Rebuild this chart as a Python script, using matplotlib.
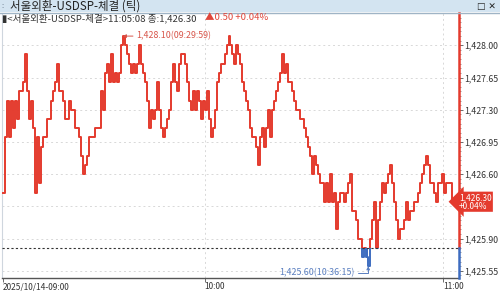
import matplotlib
matplotlib.use("Agg")
import matplotlib.pyplot as plt
import numpy as np
from matplotlib.patches import Rectangle
from matplotlib.ticker import FixedLocator, MultipleLocator

plt.rcParams["font.family"] = ["Noto Sans CJK KR", "DejaVu Sans"]

# tick-by-tick price (KRW per USD), one value per tick
prices = [
    1426.40, 1427.00, 1427.40, 1427.00, 1427.40, 1427.10, 1427.40, 1427.20, 1427.50, 1427.50,
    1427.60, 1427.90, 1427.50, 1427.20, 1427.40, 1427.10, 1426.40, 1427.00, 1426.50, 1426.90,
    1427.00, 1427.00, 1427.20, 1427.20, 1427.40, 1427.50, 1427.60, 1427.80, 1427.50, 1427.50,
    1427.40, 1427.20, 1427.20, 1427.40, 1427.30, 1427.30, 1427.10, 1427.10, 1427.00, 1426.80,
    1426.60, 1426.70, 1426.80, 1427.00, 1427.00, 1427.00, 1427.10, 1427.10, 1427.10, 1427.50,
    1427.30, 1427.70, 1427.80, 1427.60, 1427.90, 1427.60, 1427.70, 1427.60, 1427.70, 1428.00,
    1428.10, 1428.00, 1427.90, 1427.80, 1427.70, 1427.80, 1427.70, 1427.80, 1428.00, 1427.80,
    1427.70, 1427.60, 1427.40, 1427.10, 1427.30, 1427.20, 1427.30, 1427.60, 1427.30, 1427.10,
    1427.00, 1427.10, 1427.20, 1427.30, 1427.60, 1427.80, 1427.60, 1427.50, 1427.80, 1427.90,
    1427.90, 1427.80, 1427.60, 1427.40, 1427.30, 1427.50, 1427.30, 1427.50, 1427.40, 1427.20,
    1427.40, 1427.30, 1427.50, 1427.20, 1427.00, 1427.10, 1427.30, 1427.60, 1427.70, 1427.80,
    1427.80, 1427.90, 1428.00, 1428.10, 1428.00, 1427.90, 1427.80, 1428.00, 1427.90, 1427.80,
    1427.60, 1427.50, 1427.40, 1427.30, 1427.10, 1427.00, 1427.00, 1426.90, 1426.70, 1427.00,
    1427.10, 1426.90, 1427.10, 1427.30, 1427.00, 1427.30, 1427.40, 1427.50, 1427.60, 1427.70,
    1427.90, 1427.70, 1427.80, 1427.60, 1427.60, 1427.50, 1427.40, 1427.30, 1427.30, 1427.20,
    1427.20, 1427.10, 1427.00, 1426.90, 1426.80, 1426.60, 1426.80, 1426.70, 1426.60, 1426.50,
    1426.50, 1426.30, 1426.50, 1426.30, 1426.60, 1426.30, 1426.40, 1426.00, 1426.30, 1426.40,
    1426.40, 1426.30, 1426.40, 1426.50, 1426.60, 1426.20, 1426.20, 1426.10, 1425.90, 1425.90,
    1425.70, 1425.80, 1425.70, 1425.60, 1425.90, 1426.10, 1426.30, 1425.80, 1426.10, 1426.30,
    1426.50, 1426.40, 1426.50, 1426.60, 1426.70, 1426.50, 1426.30, 1426.10, 1425.90, 1426.00,
    1426.00, 1426.10, 1426.30, 1426.10, 1426.20, 1426.20, 1426.30, 1426.30, 1426.40, 1426.50,
    1426.60, 1426.70, 1426.80, 1426.70, 1426.50, 1426.50, 1426.40, 1426.30, 1426.50, 1426.50,
    1426.60, 1426.40, 1426.50, 1426.50, 1426.50, 1426.30,
]
prev_close = 1425.80
max_time = "09:29:59"
min_time = "10:36:15"
last_time = "11:05:08"

hour_ticks = [0, 101, 220.5]
hour_labels = ["2025/10/14-09:00", "10:00", "11:00"]
price_ticks = [1425.55, 1425.90, 1426.25, 1426.60, 1426.95, 1427.30, 1427.65, 1428.00]

RED = "#e43a2d"
BLUE = "#3d6cc0"

p = np.array(prices)
idx = np.arange(len(p))
last = p[-1]
chg = last - prev_close
pct = chg / prev_close * 100

fig = plt.figure(figsize=(5.0, 2.91), dpi=100)
W, H = 500, 291
ax = fig.add_axes([2 / W, (H - 278) / H, 457 / W, 265 / H])
ax.set_xlim(-0.5, 228.5)
ax.set_ylim(1425.471, 1428.351)

# grid
for v in price_ticks:
    ax.axhline(v, color="#d8d8d8", lw=0.7, ls=(0, (2, 3)), zorder=0)
for t in hour_ticks[1:]:
    ax.axvline(t, color="#d8d8d8", lw=0.7, ls=(0, (2, 3)), zorder=0)

# price line: red above the previous close, blue below
ln_r, = ax.plot(idx, p, drawstyle="steps-post", color=RED, lw=1.4, zorder=3)
ln_b, = ax.plot(idx, p, drawstyle="steps-post", color=BLUE, lw=1.4, zorder=3)
ln_b.set_clip_path(Rectangle((-10, 1400), 400, prev_close - 1400, transform=ax.transData))
ln_r.set_clip_path(Rectangle((-10, prev_close), 400, 100, transform=ax.transData))
ax.fill_between(idx, p, prev_close, where=p < prev_close, step="post", color=BLUE, lw=0, zorder=2)
ax.axhline(prev_close, color="#333333", lw=0.8, ls=(0, (2, 2)), zorder=4)

# max / min annotations
i_max = int(np.argmax(p))
i_min = int(np.argmin(p))
ax.annotate(f"{p[i_max]:,.2f}({max_time})", xy=(i_max, p[i_max]), xytext=(13, 0),
            textcoords="offset pixels", ha="left", va="center", fontsize=6.4, color="#d8554a",
            arrowprops=dict(arrowstyle="-|>,head_length=0.3,head_width=0.15", color="#d8554a", lw=0.7,
                            shrinkA=0, shrinkB=0))
ax.annotate(f"{p[i_min]:,.2f}({min_time})", xy=(i_min, p[i_min]), xytext=(-14, -7),
            textcoords="offset pixels", ha="right", va="center", fontsize=6.4, color="#5a7fc0",
            arrowprops=dict(arrowstyle="-|>,head_length=0.3,head_width=0.15", color="#5a7fc0", lw=0.7,
                            shrinkA=1, shrinkB=0,
                            connectionstyle="angle,angleA=0,angleB=90,rad=0"))

# axes styling
ax.spines["top"].set_visible(False)
ax.spines["left"].set_color("#cfd6de")
ax.spines["left"].set_linewidth(0.8)
ax.spines["bottom"].set_color("#555555")
ax.spines["bottom"].set_linewidth(1.0)
ax.spines["right"].set_visible(False)
ax.plot([1, 1], [prev_close, 1428.351], transform=ax.get_yaxis_transform(), color=RED, lw=1.8,
        clip_on=False, zorder=5)
ax.plot([1, 1], [1425.471, prev_close], transform=ax.get_yaxis_transform(), color=BLUE, lw=1.8,
        clip_on=False, zorder=5)

ax.yaxis.tick_right()
ax.yaxis.set_major_locator(FixedLocator(price_ticks))
ax.yaxis.set_minor_locator(MultipleLocator(0.05))
# the label next to the last price box is hidden behind it
ax.set_yticklabels([f"{v:,.2f}" if abs(v - last) > 0.1 else "" for v in price_ticks])
ax.tick_params(axis="y", which="major", length=3, width=0.6, color="#555555", labelsize=6.3,
               labelcolor="#333333", pad=1)
ax.tick_params(axis="y", which="minor", length=1.5, width=0.5, color="#777777")
ax.set_xticks(hour_ticks)
ax.set_xticklabels(hour_labels)
for lbl in ax.get_xticklabels():
    lbl.set_ha("left")
ax.tick_params(axis="x", length=3, width=0.6, color="#555555", labelsize=6.0,
               labelcolor="#333333", pad=0)

# last price box
ax.text(1.0, last, f"{last:,.2f}\n{pct:+.2f}%", transform=ax.get_yaxis_transform(),
        ha="left", va="center", fontsize=6.0, color="white", linespacing=0.95, clip_on=False,
        zorder=6, bbox=dict(boxstyle="larrow,pad=0.15", fc=RED, ec=RED, lw=0))

# header bar
fig.patches.append(Rectangle((0, 1 - 12 / H), 1, 12 / H, transform=fig.transFigure,
                             fc="#d3e4f1", ec="none", zorder=0))
fig.lines.append(plt.Line2D([0, 1], [1 - 12.5 / H] * 2, transform=fig.transFigure,
                            color="#9fb4c6", lw=1.0))
fig.text(1 / W, 1 - 6 / H, ":", fontsize=5.5, color="#667788", va="center")
fig.text(10 / W, 1 - 6.5 / H, "서울외환-USDSP-체결 (틱)", fontsize=8.3, color="#222222", va="center")
fig.text(1 - 4 / W, 1 - 6 / H, "□ ✕", fontsize=6.5, color="#222222", va="center", ha="right",
         family=["DejaVu Sans"])
fig.text(2 / W, 1 - 18 / H, f"▮<서울외환-USDSP-체결>{last_time} 종:{last:,.2f}", fontsize=6.9,
         color="#333333", va="center")
fig.text(205 / W, 1 - 18 / H, f"▲{chg:.2f} {pct:+.2f}%", fontsize=6.8, color="#e0463a",
         va="center")

fig.savefig("out.png", dpi=100)
